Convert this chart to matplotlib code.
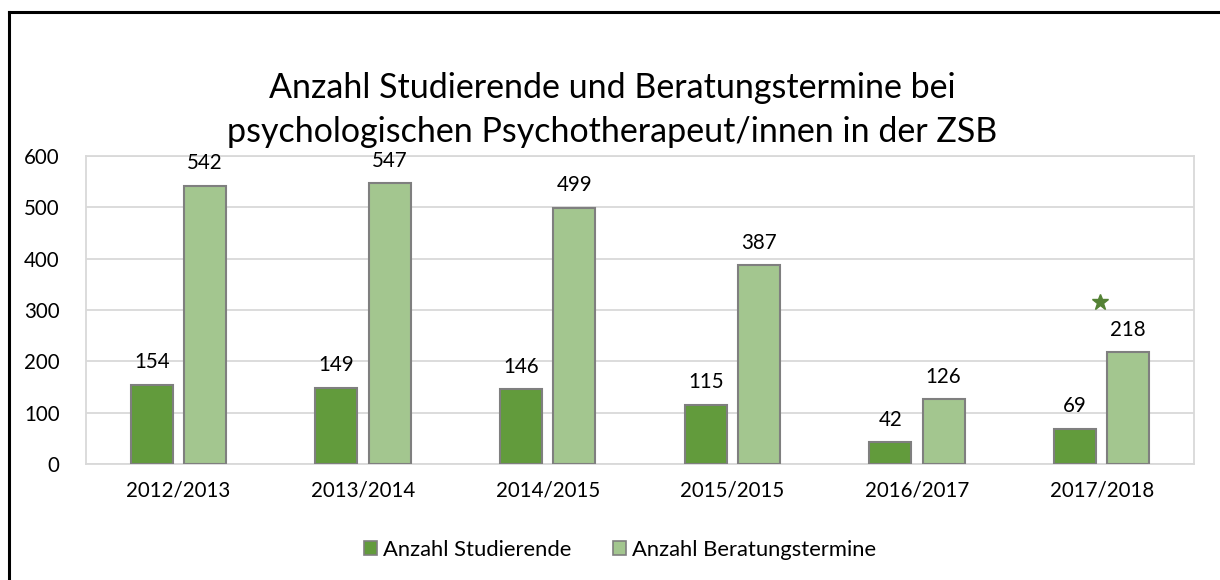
import matplotlib
matplotlib.use("Agg")
import matplotlib.pyplot as plt
import numpy as np
from matplotlib.lines import Line2D

plt.rcParams['font.family'] = ['Lato', 'DejaVu Sans']

categories = ["2012/2013", "2013/2014", "2014/2015", "2015/2015", "2016/2017", "2017/2018"]
studierende = [154, 149, 146, 115, 42, 69]
termine = [542, 547, 499, 387, 126, 218]
series_names = ["Anzahl Studierende", "Anzahl Beratungstermine"]
y_ticks = [0, 100, 200, 300, 400, 500, 600]
star_value = 315
title = "Anzahl Studierende und Beratungstermine bei\npsychologischen Psychotherapeut/innen in der ZSB"

c_dark = "#629B3C"
c_light = "#A3C68F"
edge = "#7F7F7F"
grid_c = "#D9D9D9"
fs = 14.8

fig = plt.figure(figsize=(12.2, 5.8), dpi=100)
ax = fig.add_axes([86/1220, 1-464/580, (1194-86)/1220, (464-156)/580])

x = np.arange(len(categories))
w = 0.228
off = 0.144
b1 = ax.bar(x - off, studierende, w, color=c_dark, edgecolor=edge, linewidth=1.5, label=series_names[0], zorder=3)
b2 = ax.bar(x + off, termine, w, color=c_light, edgecolor=edge, linewidth=1.5, label=series_names[1], zorder=3)

for bars, vals in ((b1, studierende), (b2, termine)):
    for r, v in zip(bars, vals):
        ax.annotate(str(v), (r.get_x() + r.get_width()/2, v), xytext=(0, 9),
                    textcoords="offset points", ha="center", va="bottom", fontsize=fs, color="#000000")

ax.plot([x[-1] - 0.01], [star_value], marker="*", markersize=12, color="#548235", linestyle="none", zorder=4)

ax.set_xlim(-0.5, len(categories) - 0.5)
ax.set_ylim(0, 600)
ax.set_yticks(y_ticks)
ax.set_xticks(x)
ax.set_xticklabels(categories)
ax.tick_params(axis="both", length=0, labelsize=fs, colors="#000000")
ax.tick_params(axis="y", pad=19)
ax.tick_params(axis="x", pad=12)
ax.yaxis.grid(True, color=grid_c, linewidth=1.3, zorder=0)
for s in ax.spines.values():
    s.set_color(grid_c)
    s.set_linewidth(1.3)

fig.text(612/1220, 1-110/580, title, ha="center", va="center", fontsize=24.5, linespacing=1.48)

handles = [plt.Rectangle((0, 0), 1, 1, facecolor=c_dark, edgecolor=edge, linewidth=1.2),
           plt.Rectangle((0, 0), 1, 1, facecolor=c_light, edgecolor=edge, linewidth=1.2)]
fig.legend(handles, series_names, loc="center", bbox_to_anchor=(620/1220, 1-550/580), ncol=2,
           frameon=False, fontsize=15.8, handlelength=0.6, handleheight=0.6, handletextpad=0.25,
           columnspacing=1.9)

# outer frame (left and top edges visible)
fig.add_artist(Line2D([9/1220, 9/1220], [0, 1-11.5/580], color="black", linewidth=2.2, transform=fig.transFigure))
fig.add_artist(Line2D([9/1220, 1], [1-11.5/580, 1-11.5/580], color="black", linewidth=2.2, transform=fig.transFigure))

fig.savefig("out.png", dpi=100)
